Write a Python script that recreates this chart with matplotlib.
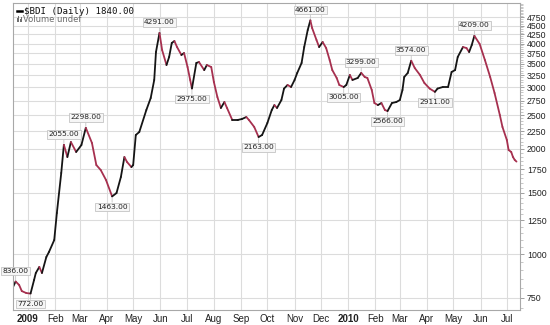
import numpy as np
import pandas as pd
import matplotlib
matplotlib.use('Agg')
import matplotlib.pyplot as plt
import matplotlib.dates as mdates
from matplotlib.collections import LineCollection
from matplotlib.ticker import FixedLocator, FixedFormatter, NullFormatter
from matplotlib.lines import Line2D
from matplotlib.patches import Rectangle

# $BDI daily close
dates = [
    "2008-12-15", "2008-12-18", "2008-12-22", "2008-12-25", "2008-12-30", "2009-01-04",
    "2009-01-08", "2009-01-10", "2009-01-14", "2009-01-17", "2009-01-22", "2009-01-25",
    "2009-01-31", "2009-02-03", "2009-02-08", "2009-02-11", "2009-02-15", "2009-02-19",
    "2009-02-25", "2009-03-03", "2009-03-08", "2009-03-15", "2009-03-20", "2009-03-25",
    "2009-03-31", "2009-04-07", "2009-04-12", "2009-04-17", "2009-04-21", "2009-04-24",
    "2009-04-29", "2009-05-01", "2009-05-04", "2009-05-08", "2009-05-16", "2009-05-21",
    "2009-05-25", "2009-05-27", "2009-05-31", "2009-06-03", "2009-06-08", "2009-06-11",
    "2009-06-14", "2009-06-17", "2009-06-20", "2009-06-25", "2009-06-28", "2009-07-02",
    "2009-07-05", "2009-07-07", "2009-07-12", "2009-07-15", "2009-07-21", "2009-07-24",
    "2009-07-29", "2009-08-01", "2009-08-05", "2009-08-09", "2009-08-13", "2009-08-16",
    "2009-08-22", "2009-08-28", "2009-09-02", "2009-09-07", "2009-09-10", "2009-09-16",
    "2009-09-21", "2009-09-25", "2009-10-01", "2009-10-06", "2009-10-09", "2009-10-12",
    "2009-10-17", "2009-10-20", "2009-10-24", "2009-10-28", "2009-11-01", "2009-11-04",
    "2009-11-09", "2009-11-12", "2009-11-16", "2009-11-19", "2009-11-21", "2009-11-26",
    "2009-11-29", "2009-12-03", "2009-12-07", "2009-12-11", "2009-12-14", "2009-12-19",
    "2009-12-22", "2009-12-27", "2009-12-30", "2010-01-03", "2010-01-06", "2010-01-12",
    "2010-01-16", "2010-01-20", "2010-01-23", "2010-01-28", "2010-01-31", "2010-02-04",
    "2010-02-08", "2010-02-12", "2010-02-15", "2010-02-20", "2010-02-25", "2010-03-01",
    "2010-03-04", "2010-03-06", "2010-03-10", "2010-03-14", "2010-03-18", "2010-03-24",
    "2010-03-29", "2010-04-04", "2010-04-10", "2010-04-13", "2010-04-19", "2010-04-25",
    "2010-04-29", "2010-05-03", "2010-05-06", "2010-05-12", "2010-05-16", "2010-05-19",
    "2010-05-22", "2010-05-25", "2010-05-31", "2010-06-06", "2010-06-12", "2010-06-17",
    "2010-06-23", "2010-06-26", "2010-07-01", "2010-07-03", "2010-07-06", "2010-07-08",
    "2010-07-10", "2010-07-12",
]
values = [
    806, 836, 817, 785, 775, 772,
    844, 884, 920, 884, 982, 1015,
    1098, 1312, 1707, 2055, 1896, 2093,
    1960, 2052, 2298, 2080, 1799, 1741,
    1631, 1463, 1496, 1663, 1896, 1835,
    1775, 1799, 2192, 2236, 2583, 2796,
    3148, 3784, 4291, 3833, 3474, 3662,
    4015, 4068, 3910, 3710, 3759, 3428,
    3148, 2975, 3520, 3543, 3360, 3474,
    3428, 3107, 2814, 2618, 2723, 2618,
    2419, 2419, 2435, 2467, 2419, 2311,
    2163, 2192, 2372, 2583, 2669, 2618,
    2759, 2975, 3046, 3006, 3148, 3296,
    3520, 3910, 4374, 4661, 4432, 4095,
    3910, 4041, 3884, 3589, 3360, 3190,
    3046, 3005, 3046, 3253, 3148, 3190,
    3299, 3210, 3190, 2947, 2705, 2669,
    2705, 2583, 2566, 2705, 2723, 2759,
    2947, 3210, 3296, 3574, 3406, 3253,
    3086, 2975, 2911, 2975, 3006, 3006,
    3318, 3360, 3662, 3910, 3884, 3784,
    3963, 4209, 3989, 3589, 3210, 2889,
    2500, 2311, 2121, 1986, 1960, 1896,
    1860, 1840,
]

# labelled highs / lows
ann_dates = ["2008-12-18", "2009-01-04", "2009-02-11", "2009-03-08", "2009-04-07",
             "2009-05-31", "2009-07-07", "2009-09-21", "2009-11-19", "2009-12-27",
             "2010-01-16", "2010-02-15", "2010-03-14", "2010-04-10", "2010-05-25"]
ann_kind = ["high", "low", "high", "high", "low", "high", "low", "low", "high", "low",
            "high", "low", "high", "low", "high"]

y_ticks = [750, 1000, 1250, 1500, 1750, 2000, 2250, 2500, 2750, 3000,
           3250, 3500, 3750, 4000, 4250, 4500, 4750]
month_labels = ["2009", "Feb", "Mar", "Apr", "May", "Jun", "Jul", "Aug", "Sep", "Oct",
                "Nov", "Dec", "2010", "Feb", "Mar", "Apr", "May", "Jun", "Jul"]

s = pd.Series(values, index=pd.to_datetime(dates))
up_col = '#151515'
down_col = '#a6304f'

fig = plt.figure(figsize=(5.5, 3.25), dpi=100)
ax = fig.add_axes([13 / 550, 15 / 325, 507 / 550, 307 / 325])

# line coloured by direction: black up, red down
x = mdates.date2num(s.index.to_pydatetime())
y = s.values
pts = np.column_stack([x, y]).reshape(-1, 1, 2)
segs = np.concatenate([pts[:-1], pts[1:]], axis=1)
cols = [up_col if d >= 0 else down_col for d in np.diff(y)]
lc = LineCollection(segs, colors=cols, linewidths=1.3, capstyle='round', joinstyle='round')
ax.add_collection(lc)

ax.set_yscale('log')
ax.set_ylim(693, 5224)
ax.set_xlim(mdates.datestr2num("2008-12-15"), mdates.datestr2num("2010-07-16"))

# y axis on the right
ax.yaxis.tick_right()
ax.yaxis.set_major_locator(FixedLocator(y_ticks))
ax.yaxis.set_major_formatter(FixedFormatter([str(v) for v in y_ticks]))
ax.yaxis.set_minor_locator(FixedLocator([v for v in range(700, 5201, 50) if v not in y_ticks]))
ax.yaxis.set_minor_formatter(NullFormatter())
ax.tick_params(axis='y', which='major', length=3, width=0.6, color='#909090', pad=2,
               labelsize=6.3, labelcolor='#222222')
ax.tick_params(axis='y', which='minor', length=2, width=0.5, color='#b0b0b0')
for lab in ax.get_yticklabels():
    lab.set_family(['Liberation Sans Narrow', 'Liberation Sans'])

# month ticks
month_ticks = pd.date_range("2009-01-01", "2010-07-01", freq='MS')
ax.xaxis.set_major_locator(FixedLocator(mdates.date2num(month_ticks.to_pydatetime())))
ax.xaxis.set_major_formatter(FixedFormatter(month_labels))
ax.tick_params(axis='x', length=0, pad=3, labelsize=7, labelcolor='#222222')
for lab in ax.get_xticklabels():
    lab.set_family('Liberation Sans')
    if lab.get_text() in ("2009", "2010"):
        lab.set_fontweight('bold')

ax.grid(True, which='major', color='#dcdcdc', lw=0.8)
ax.set_axisbelow(True)
for sp in ax.spines.values():
    sp.set_color('#a8a8a8')
    sp.set_linewidth(0.8)

# value boxes at highs and lows
for d, k in zip(ann_dates, ann_kind):
    v = s[pd.Timestamp(d)]
    off = 7.5 if k == "high" else -7.5
    ax.annotate(f"{v:.2f}", xy=(mdates.datestr2num(d), v), xytext=(0, off),
                textcoords='offset points', ha='center', va='center',
                fontsize=5.4, family='DejaVu Sans', color='#222222',
                bbox=dict(boxstyle='square,pad=0.18', fc='#f6f6f6', ec='#c4c4c4', lw=0.6),
                arrowprops=dict(arrowstyle='-', color='#c4c4c4', lw=0.6,
                                shrinkA=0, shrinkB=1))

# header
fig.add_artist(Line2D([17 / 550, 22 / 550], [1 - 11 / 325, 1 - 11 / 325],
                      color='black', lw=1.8, transform=fig.transFigure))
fig.text(24 / 550, 1 - 11 / 325, "$BDI (Daily) 1840.00", family='DejaVu Sans Mono',
         fontsize=6.6, va='center', ha='left', color='#111111')
for i, h in enumerate([4, 6, 3, 5]):
    fig.add_artist(Rectangle(((16.5 + i * 1.6) / 550, 1 - 22 / 325), 1.1 / 550, h / 325,
                             transform=fig.transFigure, color='#707070', lw=0))
fig.text(23 / 550, 1 - 19 / 325, "Volume undef", family='DejaVu Sans',
         fontsize=6, va='center', ha='left', color='#6a6a6a')

fig.savefig('out.png', dpi=100)
